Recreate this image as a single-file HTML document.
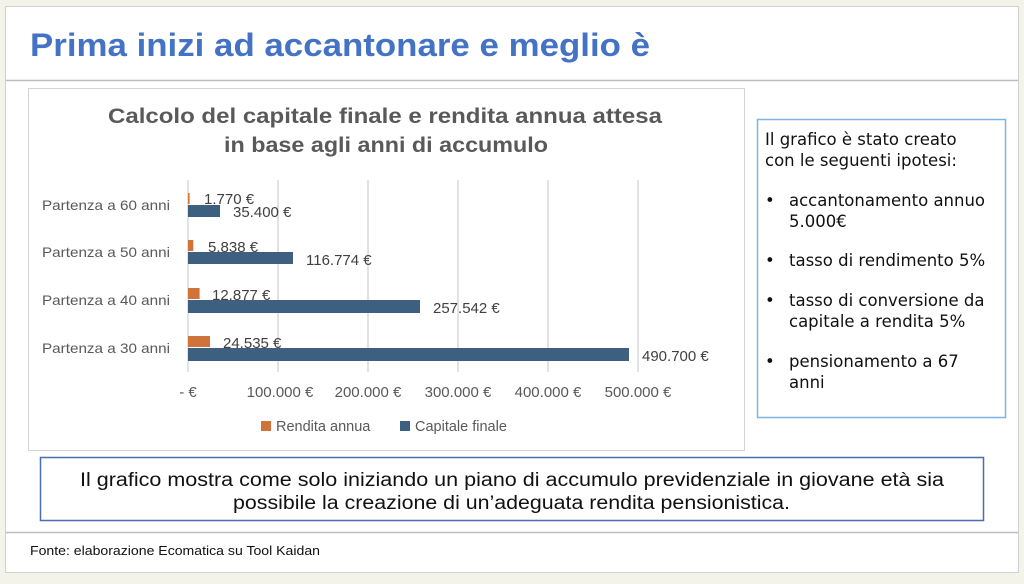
<!DOCTYPE html>
<html><head><meta charset="utf-8"><style>
html,body{margin:0;padding:0;background:#fff;}
svg{display:block}
</style></head><body>
<svg width="1024" height="584" viewBox="0 0 1024 584" xmlns="http://www.w3.org/2000/svg">
<rect x="0" y="0" width="1024" height="584" fill="#f3f3ea"/>
<rect x="5.5" y="6.5" width="1013" height="566" fill="#fff" stroke="#d0d0d0"/>
<text x="30" y="56" font-family="Liberation Sans" font-weight="bold" font-size="32" fill="#4472c4" textLength="620" lengthAdjust="spacingAndGlyphs">Prima inizi ad accantonare e meglio è</text>
<line x1="6" y1="80.5" x2="1018" y2="80.5" stroke="#bdbdbd" stroke-width="1.5"/>
<rect x="28.5" y="88.5" width="716" height="362" fill="#fff" stroke="#d4d4d4"/>
<g font-family="Liberation Sans" font-weight="bold" font-size="21" fill="#595959">
<text x="108" y="123" textLength="554" lengthAdjust="spacingAndGlyphs">Calcolo del capitale finale e rendita annua attesa</text>
<text x="224" y="152" textLength="324" lengthAdjust="spacingAndGlyphs">in base agli anni di accumulo</text>
</g>
<g stroke="#d9d9d9" stroke-width="1.5">
<line x1="188" y1="180" x2="188" y2="372"/>
<line x1="278" y1="180" x2="278" y2="372"/>
<line x1="368" y1="180" x2="368" y2="372"/>
<line x1="458" y1="180" x2="458" y2="372"/>
<line x1="548" y1="180" x2="548" y2="372"/>
<line x1="638" y1="180" x2="638" y2="372"/>
</g>
<g fill="#d0733a">
<rect x="188" y="193" width="1.6" height="11"/>
<rect x="188" y="240" width="5.3" height="11"/>
<rect x="188" y="288" width="11.6" height="11"/>
<rect x="188" y="336" width="22" height="11"/>
</g>
<g fill="#3d5f80">
<rect x="188" y="205" width="32" height="12"/>
<rect x="188" y="252" width="105" height="12"/>
<rect x="188" y="300" width="232" height="13"/>
<rect x="188" y="348" width="441" height="13"/>
</g>
<g font-family="Liberation Sans" font-size="14" fill="#595959">
<text x="42" y="210" textLength="128" lengthAdjust="spacingAndGlyphs">Partenza a 60 anni</text>
<text x="42" y="257" textLength="128" lengthAdjust="spacingAndGlyphs">Partenza a 50 anni</text>
<text x="42" y="305" textLength="128" lengthAdjust="spacingAndGlyphs">Partenza a 40 anni</text>
<text x="42" y="353" textLength="128" lengthAdjust="spacingAndGlyphs">Partenza a 30 anni</text>
</g>
<g font-family="Liberation Sans" font-size="15" fill="#404040">
<text x="204" y="204">1.770 €</text>
<text x="233" y="217">35.400 €</text>
<text x="208" y="252">5.838 €</text>
<text x="306" y="265">116.774 €</text>
<text x="212" y="300">12.877 €</text>
<text x="433" y="313">257.542 €</text>
<text x="223" y="348">24.535 €</text>
<text x="642" y="361">490.700 €</text>
</g>
<g font-family="Liberation Sans" font-size="15" fill="#595959" text-anchor="middle">
<text x="188" y="397">- €</text>
<text x="280" y="397">100.000 €</text>
<text x="368" y="397">200.000 €</text>
<text x="458" y="397">300.000 €</text>
<text x="548" y="397">400.000 €</text>
<text x="638" y="397">500.000 €</text>
</g>
<rect x="261" y="421" width="10" height="10" fill="#d0733a"/>
<rect x="400" y="421" width="10" height="10" fill="#3d5f80"/>
<g font-family="Liberation Sans" font-size="14.5" fill="#595959">
<text x="276" y="431">Rendita annua</text>
<text x="415" y="431">Capitale finale</text>
</g>
<rect x="757.5" y="119.5" width="248" height="298" fill="#fff" stroke="#7fb3e6" stroke-width="1.5"/>
<g font-family="DejaVu Sans" font-size="16.5" fill="#111">
<text x="765" y="145">Il grafico è stato creato</text>
<text x="765" y="166">con le seguenti ipotesi:</text>
<text x="765" y="206">•</text><text x="789" y="206">accantonamento annuo</text>
<text x="789" y="227">5.000€</text>
<text x="765" y="266">•</text><text x="789" y="266">tasso di rendimento 5%</text>
<text x="765" y="306">•</text><text x="789" y="306">tasso di conversione da</text>
<text x="789" y="327">capitale a rendita 5%</text>
<text x="765" y="367">•</text><text x="789" y="367">pensionamento a 67</text>
<text x="789" y="388">anni</text>
</g>
<rect x="40.5" y="457.5" width="943" height="63" fill="#fff" stroke="#4a6fae" stroke-width="1.5"/>
<g font-family="Liberation Sans" font-size="19" fill="#111">
<text x="80" y="486" textLength="864" lengthAdjust="spacingAndGlyphs">Il grafico mostra come solo iniziando un piano di accumulo previdenziale in giovane età sia</text>
<text x="233" y="509" textLength="557" lengthAdjust="spacingAndGlyphs">possibile la creazione di un’adeguata rendita pensionistica.</text>
</g>
<line x1="6" y1="532.5" x2="1018" y2="532.5" stroke="#bdbdbd" stroke-width="1.5"/>
<text x="30" y="555" font-family="Liberation Sans" font-size="12.5" fill="#111" textLength="290" lengthAdjust="spacingAndGlyphs">Fonte: elaborazione Ecomatica su Tool Kaidan</text>
</svg>
</body></html>
